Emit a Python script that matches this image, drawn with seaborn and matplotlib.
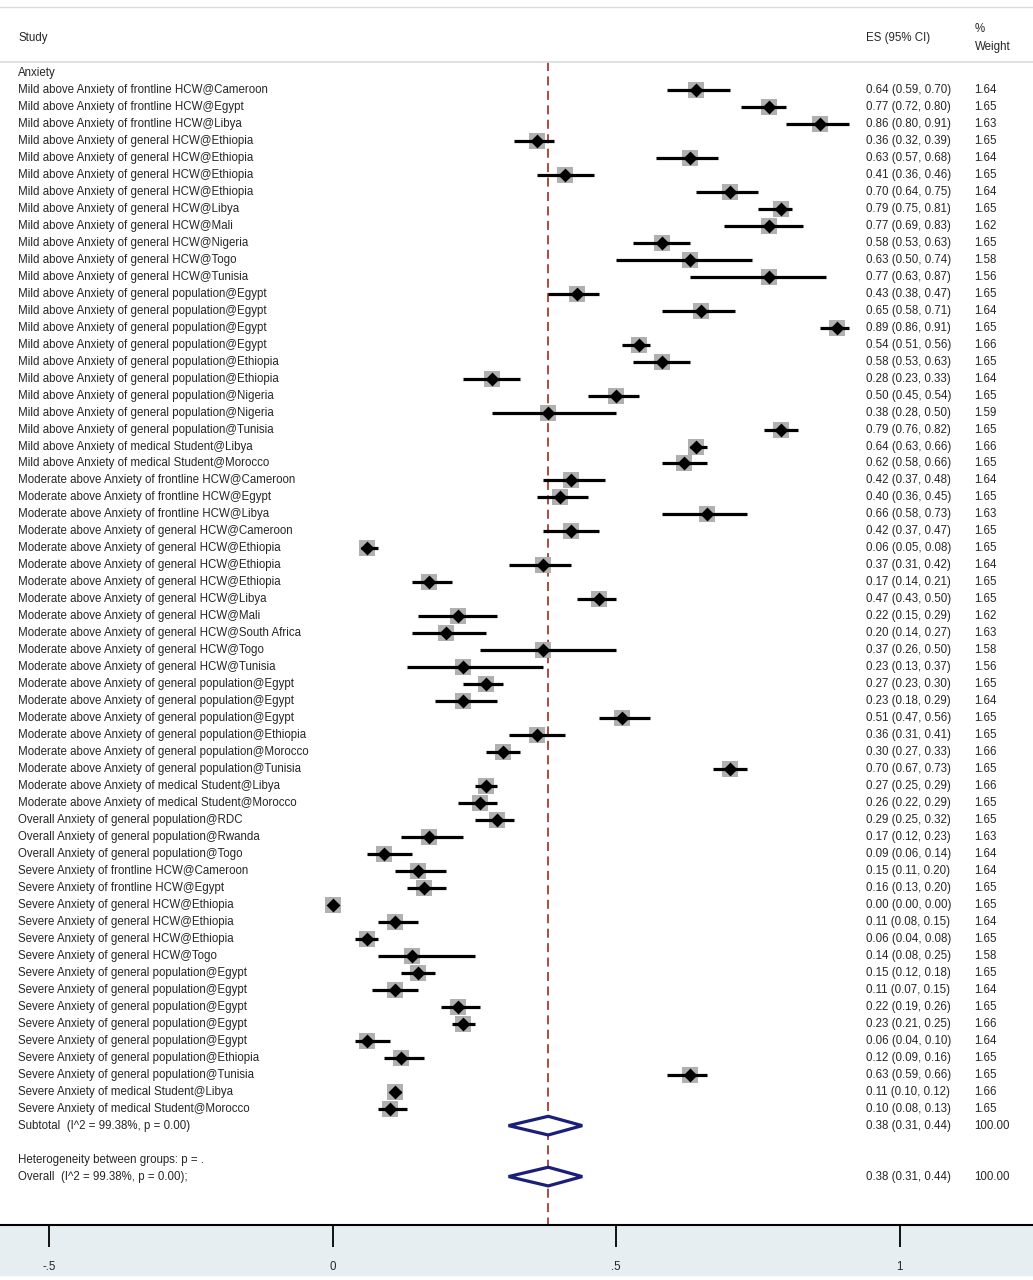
import matplotlib
matplotlib.use("Agg")
import matplotlib.pyplot as plt
import seaborn as sns
import pandas as pd
from matplotlib.patches import Polygon, Rectangle

sns.set_theme(style="white")
plt.rcParams['font.family'] = ['Liberation Sans', 'DejaVu Sans']

labels = [
"Mild above Anxiety of frontline HCW@Cameroon","Mild above Anxiety of frontline HCW@Egypt","Mild above Anxiety of frontline HCW@Libya",
"Mild above Anxiety of general HCW@Ethiopia","Mild above Anxiety of general HCW@Ethiopia","Mild above Anxiety of general HCW@Ethiopia",
"Mild above Anxiety of general HCW@Ethiopia","Mild above Anxiety of general HCW@Libya","Mild above Anxiety of general HCW@Mali",
"Mild above Anxiety of general HCW@Nigeria","Mild above Anxiety of general HCW@Togo","Mild above Anxiety of general HCW@Tunisia",
"Mild above Anxiety of general population@Egypt","Mild above Anxiety of general population@Egypt","Mild above Anxiety of general population@Egypt",
"Mild above Anxiety of general population@Egypt","Mild above Anxiety of general population@Ethiopia","Mild above Anxiety of general population@Ethiopia",
"Mild above Anxiety of general population@Nigeria","Mild above Anxiety of general population@Nigeria","Mild above Anxiety of general population@Tunisia",
"Mild above Anxiety of medical Student@Libya","Mild above Anxiety of medical Student@Morocco",
"Moderate above Anxiety of frontline HCW@Cameroon","Moderate above Anxiety of frontline HCW@Egypt","Moderate above Anxiety of frontline HCW@Libya",
"Moderate above Anxiety of general HCW@Cameroon","Moderate above Anxiety of general HCW@Ethiopia","Moderate above Anxiety of general HCW@Ethiopia",
"Moderate above Anxiety of general HCW@Ethiopia","Moderate above Anxiety of general HCW@Libya","Moderate above Anxiety of general HCW@Mali",
"Moderate above Anxiety of general HCW@South Africa","Moderate above Anxiety of general HCW@Togo","Moderate above Anxiety of general HCW@Tunisia",
"Moderate above Anxiety of general population@Egypt","Moderate above Anxiety of general population@Egypt","Moderate above Anxiety of general population@Egypt",
"Moderate above Anxiety of general population@Ethiopia","Moderate above Anxiety of general population@Morocco","Moderate above Anxiety of general population@Tunisia",
"Moderate above Anxiety of medical Student@Libya","Moderate above Anxiety of medical Student@Morocco",
"Overall Anxiety of general population@RDC","Overall Anxiety of general population@Rwanda","Overall Anxiety of general population@Togo",
"Severe Anxiety of frontline HCW@Cameroon","Severe Anxiety of frontline HCW@Egypt","Severe Anxiety of general HCW@Ethiopia",
"Severe Anxiety of general HCW@Ethiopia","Severe Anxiety of general HCW@Ethiopia","Severe Anxiety of general HCW@Togo",
"Severe Anxiety of general population@Egypt","Severe Anxiety of general population@Egypt","Severe Anxiety of general population@Egypt",
"Severe Anxiety of general population@Egypt","Severe Anxiety of general population@Egypt","Severe Anxiety of general population@Ethiopia",
"Severe Anxiety of general population@Tunisia","Severe Anxiety of medical Student@Libya","Severe Anxiety of medical Student@Morocco",
]
es = [0.64,0.77,0.86,0.36,0.63,0.41,0.70,0.79,0.77,0.58,0.63,0.77,0.43,0.65,0.89,0.54,0.58,0.28,0.50,0.38,0.79,0.64,0.62,
      0.42,0.40,0.66,0.42,0.06,0.37,0.17,0.47,0.22,0.20,0.37,0.23,0.27,0.23,0.51,0.36,0.30,0.70,0.27,0.26,
      0.29,0.17,0.09,
      0.15,0.16,0.00,0.11,0.06,0.14,0.15,0.11,0.22,0.23,0.06,0.12,0.63,0.11,0.10]
lo = [0.59,0.72,0.80,0.32,0.57,0.36,0.64,0.75,0.69,0.53,0.50,0.63,0.38,0.58,0.86,0.51,0.53,0.23,0.45,0.28,0.76,0.63,0.58,
      0.37,0.36,0.58,0.37,0.05,0.31,0.14,0.43,0.15,0.14,0.26,0.13,0.23,0.18,0.47,0.31,0.27,0.67,0.25,0.22,
      0.25,0.12,0.06,
      0.11,0.13,0.00,0.08,0.04,0.08,0.12,0.07,0.19,0.21,0.04,0.09,0.59,0.10,0.08]
hi = [0.70,0.80,0.91,0.39,0.68,0.46,0.75,0.81,0.83,0.63,0.74,0.87,0.47,0.71,0.91,0.56,0.63,0.33,0.54,0.50,0.82,0.66,0.66,
      0.48,0.45,0.73,0.47,0.08,0.42,0.21,0.50,0.29,0.27,0.50,0.37,0.30,0.29,0.56,0.41,0.33,0.73,0.29,0.29,
      0.32,0.23,0.14,
      0.20,0.20,0.00,0.15,0.08,0.25,0.18,0.15,0.26,0.25,0.10,0.16,0.66,0.12,0.13]
weights = [1.64,1.65,1.63,1.65,1.64,1.65,1.64,1.65,1.62,1.65,1.58,1.56,1.65,1.64,1.65,1.66,1.65,1.64,1.65,1.59,1.65,1.66,1.65,
           1.64,1.65,1.63,1.65,1.65,1.64,1.65,1.65,1.62,1.63,1.58,1.56,1.65,1.64,1.65,1.65,1.66,1.65,1.66,1.65,
           1.65,1.63,1.64,
           1.64,1.65,1.65,1.64,1.65,1.58,1.65,1.64,1.65,1.66,1.64,1.65,1.65,1.66,1.65]
pooled_es, pooled_lo, pooled_hi = 0.38, 0.31, 0.44
subtotal_label = "Subtotal  (I^2 = 99.38%, p = 0.00)"
overall_label = "Overall  (I^2 = 99.38%, p = 0.00);"
het_label = "Heterogeneity between groups: p = ."
xticks = [-0.5, 0, 0.5, 1]
xticklabels = ["-.5", "0", ".5", "1"]

n = len(labels)
df = pd.DataFrame({"label": labels, "es": es, "lo": lo, "hi": hi, "w": weights, "row": list(range(1, n + 1))})
sub_row, het_row, ov_row = n + 1, n + 3, n + 4

fig = plt.figure(figsize=(10.33, 12.8), dpi=100)
fig.patches.append(Rectangle((0, 0.004), 1, 0.039, transform=fig.transFigure, color="#e7eef1", zorder=-5))
ax = fig.add_axes([0, 0.043, 1, 0.957])
ax.patch.set_alpha(0)

fs = 8.3
ax.axhline(-3.9, color="#d8dde0", lw=1)
ax.axhline(-0.65, color="#d8dde0", lw=1.2)
ax.plot([pooled_es, pooled_es], [-0.65, 67.85], color="#a83a32", lw=1.3, ls=(0, (5, 3)), zorder=1)

ax.hlines(df["row"], df["lo"], df["hi"], color="black", lw=2.3, zorder=3)
sns.scatterplot(data=df, x="es", y="row", marker="s", color="#b0b0b0", s=130, linewidth=0, ax=ax, zorder=2, legend=False)
sns.scatterplot(data=df, x="es", y="row", marker="D", color="black", s=50, linewidth=0, ax=ax, zorder=4, legend=False)

for r in (sub_row, ov_row):
    ax.add_patch(Polygon([[pooled_lo, r], [pooled_es, r - 0.55], [pooled_hi, r], [pooled_es, r + 0.55]],
                         closed=True, facecolor="white", edgecolor="#1c1f7a", lw=2.3, zorder=5))

xl, xes, xw = -0.555, 0.94, 1.132
ax.text(xl, -2.06, "Study", fontsize=fs, va="center")
ax.text(xes, -2.06, "ES (95% CI)", fontsize=fs, va="center")
ax.text(xw, -2.06, "%\nWeight", fontsize=fs, va="center", linespacing=1.7)
ax.text(xl, 0, "Anxiety", fontsize=fs, va="center")
for _, d in df.iterrows():
    ax.text(xl, d["row"], d["label"], fontsize=fs, va="center")
    ax.text(xes, d["row"], f"{d['es']:.2f} ({d['lo']:.2f}, {d['hi']:.2f})", fontsize=fs, va="center")
    ax.text(xw, d["row"], f"{d['w']:.2f}", fontsize=fs, va="center")
for r, lab in ((sub_row, subtotal_label), (ov_row, overall_label)):
    ax.text(xl, r, lab, fontsize=fs, va="center")
    ax.text(xes, r, f"{pooled_es:.2f} ({pooled_lo:.2f}, {pooled_hi:.2f})", fontsize=fs, va="center")
    ax.text(xw, r, "100.00", fontsize=fs, va="center")
ax.text(xl, het_row, het_label, fontsize=fs, va="center")

for s in ("top", "left", "right"):
    ax.spines[s].set_visible(False)
ax.spines["bottom"].set_color("black")
ax.spines["bottom"].set_linewidth(1.5)
ax.set_yticks([])
ax.set_xticks(xticks)
ax.set_xticklabels(xticklabels, fontsize=fs)
ax.tick_params(axis="x", direction="out", length=16, width=1.3, color="black", pad=10, bottom=True)
ax.set_xlabel("")
ax.set_ylabel("")
ax.set_xlim(-0.587, 1.235)
ax.set_ylim(67.85, -4.3)
fig.savefig("out.png", dpi=100, facecolor="white")
